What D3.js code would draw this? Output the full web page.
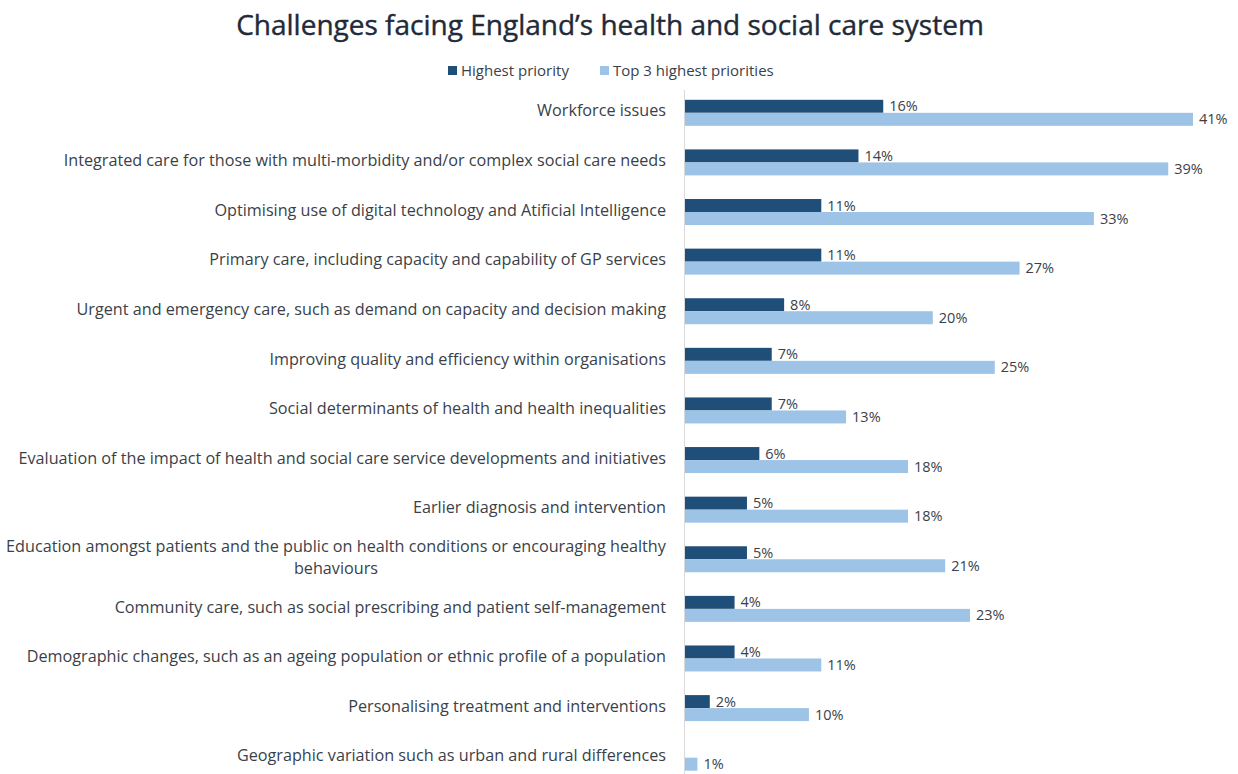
<!DOCTYPE html>
<html>
<head>
<meta charset="utf-8">
<script src="https://cdn.jsdelivr.net/npm/d3@7"></script>
<style>
  body { margin: 0; background: #fff; }
  text { font-family: "Open Sans", "Noto Sans", sans-serif; }
</style>
</head>
<body>
<svg id="chart" width="1238" height="774"></svg>
<script>
const categories = [
  'Workforce issues',
  'Integrated care for those with multi-morbidity and/or complex social care needs',
  'Optimising use of digital technology and Atificial Intelligence',
  'Primary care, including capacity and capability of GP services',
  'Urgent and emergency care, such as demand on capacity and decision making',
  'Improving quality and efficiency within organisations',
  'Social determinants of health and health inequalities',
  'Evaluation of the impact of health and social care service developments and initiatives',
  'Earlier diagnosis and intervention',
  'Education amongst patients and the public on health conditions or encouraging healthy|behaviours',
  'Community care, such as social prescribing and patient self-management',
  'Demographic changes, such as an ageing population or ethnic profile of a population',
  'Personalising treatment and interventions',
  'Geographic variation such as urban and rural differences'
];
const highest = [16, 14, 11, 11, 8, 7, 7, 6, 5, 5, 4, 4, 2, 0];
const top3 = [41, 39, 33, 27, 20, 25, 13, 18, 18, 21, 23, 11, 10, 1];
const seriesNames = ['Highest priority', 'Top 3 highest priorities'];
const colors = ['#1f4e79', '#9dc3e6'];

const svg = d3.select('#chart');
const x0 = 684;

const x = d3.scaleLinear().domain([0, 41]).range([x0, 1192]);
const y = d3.scaleBand().domain(categories).range([88, 782.5]).paddingInner(0.476).paddingOuter(0.238);
const ySub = d3.scaleBand().domain([0, 1]).range([0, y.bandwidth()]);

// title
svg.append('text')
  .attr('x', 610).attr('y', 35)
  .attr('text-anchor', 'middle')
  .attr('font-size', 28)
  .attr('fill', '#222a38')
  .attr('stroke', '#222a38')
  .attr('stroke-width', 0.4)
  .text('Challenges facing England\u2019s health and social care system');

// legend
const legend = svg.append('g');
const legendItems = [{ x: 448 }, { x: 600 }];
seriesNames.forEach((name, i) => {
  legend.append('rect')
    .attr('x', legendItems[i].x).attr('y', 66)
    .attr('width', 9).attr('height', 9)
    .attr('fill', colors[i]);
  legend.append('text')
    .attr('x', legendItems[i].x + 13).attr('y', 76)
    .attr('font-size', 15)
    .attr('fill', '#3a3f4a')
    .text(name);
});

// axis line
svg.append('line')
  .attr('x1', x0 + 0.5).attr('x2', x0 + 0.5)
  .attr('y1', 90).attr('y2', 774)
  .attr('stroke', '#d9d9d9');

// category labels
const labels = svg.append('g');
categories.forEach((c) => {
  const lines = c.split('|');
  const cy = y(c) + y.bandwidth() / 2 - 2;
  const t = labels.append('text')
    .attr('font-size', 16.2)
    .attr('fill', '#3a3f4a')
    .attr('text-anchor', 'middle');
  if (lines.length === 1) {
    t.attr('x', 666).attr('text-anchor', 'end')
      .attr('y', cy).attr('dy', '0.35em').text(c);
  } else {
    const w = 336; // center of wrapped block
    lines.forEach((ln, j) => {
      t.append('tspan')
        .attr('x', w)
        .attr('y', cy + (j - (lines.length - 1) / 2) * 22)
        .attr('dy', '0.35em')
        .text(ln);
    });
  }
});

// bars
const series = [highest, top3];
series.forEach((vals, s) => {
  const g = svg.append('g');
  vals.forEach((v, i) => {
    const yy = y(categories[i]) + ySub(s);
    if (v > 0 || s === 1) {
      g.append('rect')
        .attr('x', x(0) + 1)
        .attr('y', yy)
        .attr('width', Math.max(0, x(v) - x(0)))
        .attr('height', ySub.bandwidth())
        .attr('fill', colors[s]);
    }
    if (v > 0) {
      g.append('text')
        .attr('x', x(v) + 7)
        .attr('y', yy + ySub.bandwidth() / 2)
        .attr('dy', '0.35em')
        .attr('font-size', 14.5)
        .attr('fill', '#3a3f4a')
        .text(v + '%');
    }
  });
});
</script>
</body>
</html>
